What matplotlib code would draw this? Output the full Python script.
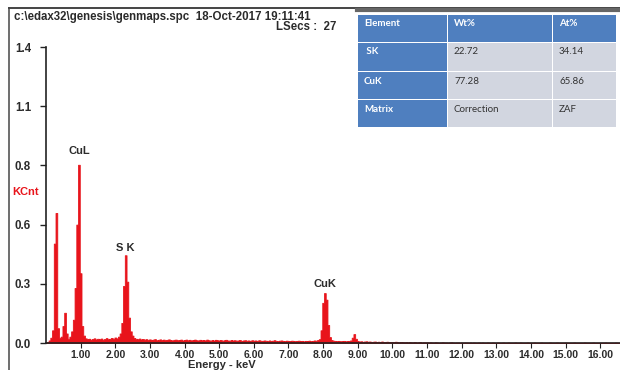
import numpy as np
import matplotlib
matplotlib.use("Agg")
from matplotlib import pyplot as plt
from matplotlib.patches import Rectangle
from matplotlib.lines import Line2D

plt.rcParams['font.family'] = ['Liberation Sans', 'DejaVu Sans']

# EDS spectrum, KCnt per 0.05 keV channel (one row = 1 keV)
kcnt = [
    0.000, 0.004, 0.012, 0.025, 0.060, 0.470, 0.615, 0.070, 0.025, 0.030, 0.080, 0.143, 0.045, 0.020, 0.030, 0.055, 0.110, 0.260, 0.560, 0.843,
    0.330, 0.080, 0.035, 0.022, 0.018, 0.020, 0.016, 0.019, 0.022, 0.017, 0.020, 0.018, 0.021, 0.016, 0.019, 0.023, 0.018, 0.020, 0.024, 0.019,
    0.026, 0.022, 0.030, 0.045, 0.095, 0.270, 0.415, 0.290, 0.120, 0.055, 0.035, 0.024, 0.020, 0.018, 0.021, 0.017, 0.019, 0.016, 0.018, 0.015,
    0.017, 0.014, 0.016, 0.018, 0.013, 0.015, 0.017, 0.014, 0.016, 0.013, 0.015, 0.017, 0.014, 0.012, 0.015, 0.016, 0.013, 0.014, 0.016, 0.012,
    0.014, 0.016, 0.013, 0.015, 0.012, 0.014, 0.016, 0.013, 0.012, 0.015, 0.013, 0.014, 0.012, 0.016, 0.013, 0.011, 0.014, 0.012, 0.015, 0.013,
    0.012, 0.014, 0.011, 0.013, 0.015, 0.012, 0.011, 0.014, 0.012, 0.013, 0.011, 0.012, 0.014, 0.010, 0.012, 0.013, 0.011, 0.012, 0.010, 0.013,
    0.011, 0.012, 0.010, 0.013, 0.011, 0.010, 0.012, 0.011, 0.009, 0.012, 0.010, 0.011, 0.013, 0.010, 0.009, 0.011, 0.012, 0.010, 0.009, 0.011,
    0.010, 0.009, 0.011, 0.010, 0.008, 0.010, 0.011, 0.009, 0.010, 0.008, 0.010, 0.009, 0.011, 0.009, 0.010, 0.012, 0.011, 0.014, 0.018, 0.060,
    0.190, 0.236, 0.205, 0.085, 0.028, 0.014, 0.011, 0.010, 0.009, 0.010, 0.008, 0.009, 0.010, 0.008, 0.009, 0.010, 0.012, 0.025, 0.042, 0.020,
    0.010, 0.007, 0.008, 0.006, 0.007, 0.008, 0.006, 0.007, 0.005, 0.006, 0.007, 0.005, 0.006, 0.005, 0.007, 0.005, 0.004, 0.006, 0.005, 0.004,
    0.005, 0.004, 0.006, 0.004, 0.003, 0.005, 0.004, 0.003, 0.004, 0.003, 0.004, 0.003, 0.003, 0.004, 0.002, 0.003, 0.004, 0.002, 0.003, 0.003,
    0.003, 0.002, 0.003, 0.002, 0.002, 0.003, 0.002, 0.001, 0.002, 0.003, 0.002, 0.002, 0.001, 0.002, 0.003, 0.002, 0.001, 0.002, 0.002, 0.001,
    0.002, 0.001, 0.002, 0.002, 0.001, 0.002, 0.001, 0.002, 0.001, 0.001, 0.002, 0.001, 0.002, 0.001, 0.001, 0.002, 0.001, 0.001, 0.002, 0.001,
    0.001, 0.002, 0.001, 0.001, 0.002, 0.001, 0.001, 0.002, 0.001, 0.001, 0.001, 0.002, 0.001, 0.001, 0.002, 0.001, 0.001, 0.001, 0.002, 0.001,
    0.001, 0.001, 0.002, 0.001, 0.001, 0.001, 0.002, 0.001, 0.001, 0.001, 0.001, 0.002, 0.001, 0.001, 0.001, 0.002, 0.001, 0.001, 0.001, 0.001,
    0.002, 0.001, 0.001, 0.001, 0.001, 0.002, 0.001, 0.001, 0.001, 0.001, 0.001, 0.002, 0.001, 0.001, 0.001, 0.001, 0.002, 0.001, 0.001, 0.001,
    0.001, 0.001, 0.001, 0.002, 0.001, 0.001, 0.001, 0.001, 0.001, 0.002, 0.001, 0.001, 0.001, 0.001, 0.001, 0.001, 0.002, 0.001, 0.001, 0.001,
]
channel_kev = 0.05
energy = np.arange(len(kcnt)) * channel_kev

# peak labels: (text, energy keV, KCnt where the label sits)
peak_names = ['CuL', 'S K', 'CuK']
peak_kev = [0.95, 2.30, 8.05]
peak_label_y = [0.885, 0.425, 0.255]

y_ticks = [0.0, 0.28, 0.56, 0.84, 1.12, 1.4]
y_ticklabels = ['0.0', '0.3', '0.6', '0.8', '1.1', '1.4']
x_ticks = list(range(1, 17))
x_ticklabels = ['%.2f' % v for v in x_ticks]

table_header = ['Element', 'Wt%', 'At%']
table_rows = [[' SK', '22.72', '34.14'],
              ['CuK', '77.28', '65.86'],
              ['Matrix', 'Correction', 'ZAF']]

header_file = 'c:\\edax32\\genesis\\genmaps.spc  18-Oct-2017 19:11:41'
header_lsecs = 'LSecs :  27'

RED = '#e8141b'
INK = '#2b2b2b'
W, H = 620, 370

fig = plt.figure(figsize=(W / 100, H / 100), dpi=100)


def fx(px):
    return px / W


def fy(py):
    return 1 - py / H


ax = fig.add_axes([fx(46), 1 - 343 / H, (W - 46) / W, (343 - 47) / H])
ax.fill_between(energy, kcnt, 0, step='mid', color=RED, linewidth=0.6)
ax.set_xlim(0, 16.57)
ax.set_ylim(0, 1.4)

for side in ['top', 'right']:
    ax.spines[side].set_visible(False)
for side in ['left', 'bottom']:
    ax.spines[side].set_color('#222222')
    ax.spines[side].set_linewidth(1.2)
ax.set_axisbelow(False)

ax.set_yticks(y_ticks)
ax.set_yticklabels(y_ticklabels, fontweight='bold', color=INK, fontsize=8.3)
ax.tick_params(axis='y', length=4.3, width=1, pad=6.5, color='#222222')
ax.set_xticks(x_ticks)
ax.set_xticklabels(x_ticklabels, fontweight='bold', color=INK, fontsize=7.5)
ax.tick_params(axis='x', direction='out', length=3.6, width=0.8, pad=1.5, color='#222222')
ax.set_xlabel('Energy - keV', fontweight='bold', color=INK, fontsize=8, labelpad=0)
ax.xaxis.set_label_coords((222 - 46) / (W - 46), -0.058)

for name, e, y in zip(peak_names, peak_kev, peak_label_y):
    ax.text(e, y, name, ha='center', va='bottom', fontsize=8,
            fontweight='bold', color=INK)

fig.text(fx(12), fy(192), 'KCnt', color=RED, fontsize=8, fontweight='bold',
         va='center', ha='left')

# instrument frame lines
fig.add_artist(Line2D([fx(9), fx(9)], [0, fy(8)], color='#555555', lw=1.2))
fig.add_artist(Line2D([fx(9), 1], [fy(8), fy(8)], color='#444444', lw=1.4))
fig.add_artist(Line2D([fx(357), 1], [fy(10), fy(10)], color='#666666', lw=3))

fig.text(fx(14), fy(17), header_file, fontsize=8.3, fontweight='bold',
         color=INK, va='center', ha='left')
fig.text(fx(336), fy(27.5), header_lsecs, fontsize=8.3, fontweight='bold',
         color=INK, va='center', ha='right')

# quantification table
BLUE = '#4f7fbf'
LIGHT = '#d2d6e0'
col_x = [358, 448, 553]
col_w = [89, 104, 63]
row_y = [15, 43, 72, 100]
row_h = [27, 28, 27, 27]
rows = [table_header] + table_rows
for r, cells in enumerate(rows):
    for c, txt in enumerate(cells):
        blue = (r == 0 or c == 0)
        x0, y0 = col_x[c], row_y[r]
        fig.add_artist(Rectangle((fx(x0), fy(y0 + row_h[r])), col_w[c] / W,
                                 row_h[r] / H, transform=fig.transFigure,
                                 facecolor=BLUE if blue else LIGHT,
                                 edgecolor='none'))
        fig.text(fx(x0 + 6), fy(y0 + 9), txt, family=['Lato', 'DejaVu Sans'],
                 fontsize=7, fontweight='bold' if blue else 'normal',
                 color='white' if blue else '#333333', va='center', ha='left')

fig.savefig('out.png', dpi=100)
